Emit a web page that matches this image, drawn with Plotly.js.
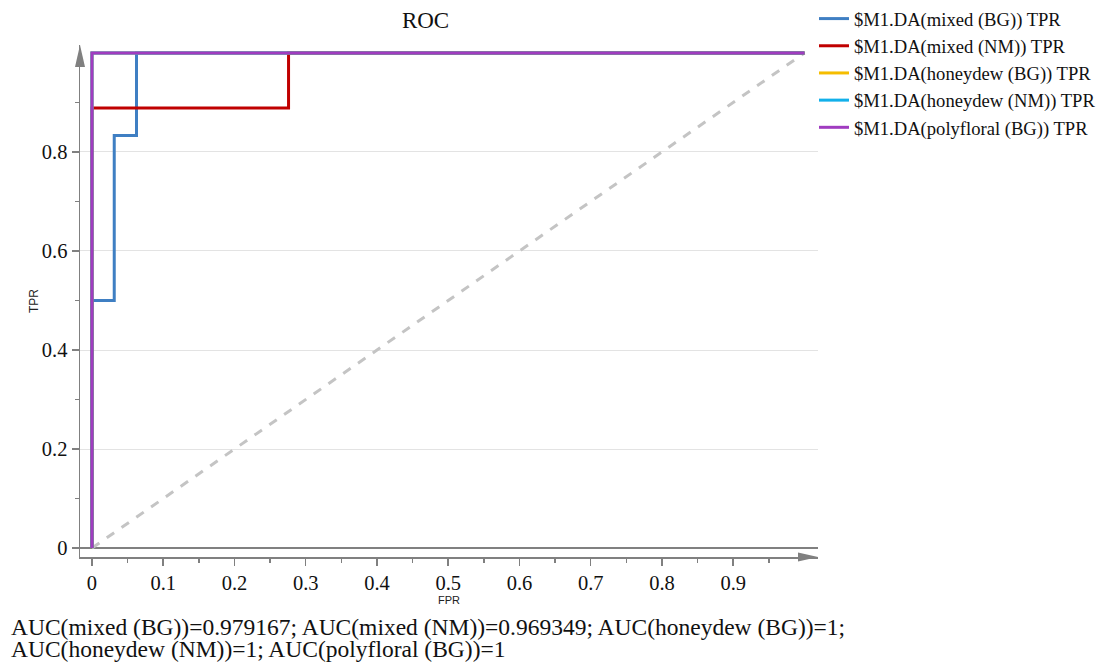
<!DOCTYPE html>
<html>
<head>
<meta charset="utf-8">
<script src="https://cdn.plot.ly/plotly-3.0.1.min.js"></script>
<style>html,body{margin:0;padding:0;background:#fff;}#chart{width:1107px;height:667px;}</style>
</head>
<body>
<div id="chart"></div>
<script>
// ---- data ----
const seriesNames = [
  "$M1.DA(mixed (BG)) TPR",
  "$M1.DA(mixed (NM)) TPR",
  "$M1.DA(honeydew (BG)) TPR",
  "$M1.DA(honeydew (NM)) TPR",
  "$M1.DA(polyfloral (BG)) TPR"
];
const fprMixedBG = [0, 0, 0.03125, 0.03125, 0.0625, 0.0625, 1];
const tprMixedBG = [0, 0.5, 0.5, 0.8333, 0.8333, 1, 1];
const fprMixedNM = [0, 0, 0.2759, 0.2759, 1];
const tprMixedNM = [0, 0.8889, 0.8889, 1, 1];
const fprHoneydewBG = [0, 0, 1];
const tprHoneydewBG = [0, 1, 1];
const fprHoneydewNM = [0, 0, 1];
const tprHoneydewNM = [0, 1, 1];
const fprPolyfloralBG = [0, 0, 1];
const tprPolyfloralBG = [0, 1, 1];
const diagX = [0, 1];
const diagY = [0, 1];
const aucLabels = ["mixed (BG)", "mixed (NM)", "honeydew (BG)", "honeydew (NM)", "polyfloral (BG)"];
const aucValues = ["0.979167", "0.969349", "1", "1", "1"];
const xTickVals = [0, 0.1, 0.2, 0.3, 0.4, 0.5, 0.6, 0.7, 0.8, 0.9];
const xTickText = ["0", "0.1", "0.2", "0.3", "0.4", "0.5", "0.6", "0.7", "0.8", "0.9"];
const yTickVals = [0, 0.2, 0.4, 0.6, 0.8];
const yTickText = ["0", "0.2", "0.4", "0.6", "0.8"];
const xMinorVals = [0.05, 0.15, 0.25, 0.35, 0.45, 0.55, 0.65, 0.75, 0.85, 0.95];
const yMinorVals = [0.1, 0.3, 0.5, 0.7, 0.9];

const colors = ["#3f7fc3", "#c00000", "#f5bd00", "#12b0ea", "#a03cc0"];
const xs = [fprMixedBG, fprMixedNM, fprHoneydewBG, fprHoneydewNM, fprPolyfloralBG];
const ys = [tprMixedBG, tprMixedNM, tprHoneydewBG, tprHoneydewNM, tprPolyfloralBG];

const serif = "Liberation Serif, Times New Roman, serif";
const sans = "Liberation Sans, Arial, sans-serif";

const traces = [{
  x: diagX, y: diagY, mode: "lines", showlegend: false, hoverinfo: "skip",
  line: {color: "#c4c4c4", width: 3, dash: "dash"}
}];
for (let i = 0; i < seriesNames.length; i++) {
  traces.push({
    x: xs[i], y: ys[i], mode: "lines", name: seriesNames[i],
    line: {color: colors[i], width: 3}
  });
}

const aucText = aucLabels.map((l, i) => "AUC(" + l + ")=" + aucValues[i]);
const aucLine1 = aucText.slice(0, 3).join("; ") + ";";
const aucLine2 = aucText.slice(3).join("; ");

const layout = {
  width: 1107, height: 667,
  margin: {l: 80, r: 289, t: 45, b: 110, autoexpand: false},
  paper_bgcolor: "#fff", plot_bgcolor: "#fff",
  title: {text: "ROC", font: {family: serif, size: 23, color: "#111"}, x: 0.3844, xanchor: "center", y: 0.97, yanchor: "middle"},
  xaxis: {
    range: [-0.0168, 1.019], showgrid: false, zeroline: false,
    showline: true, linecolor: "#808080", linewidth: 1.5,
    tickmode: "array", tickvals: xTickVals, ticktext: xTickText,
    ticks: "outside", ticklen: 7, tickcolor: "#808080", tickwidth: 1.5,
    minor: {tickmode: "array", tickvals: xMinorVals, ticks: "outside", ticklen: 4, tickcolor: "#808080", tickwidth: 1.5, showgrid: false},
    tickfont: {family: serif, size: 20.5, color: "#111"},
    title: {text: "FPR", font: {family: sans, size: 11, color: "#222"}, standoff: 3}
  },
  yaxis: {
    range: [-0.018, 1.016], showgrid: true, gridcolor: "#e3e3e3", gridwidth: 1,
    zeroline: true, zerolinecolor: "#808080", zerolinewidth: 1.5,
    showline: true, linecolor: "#808080", linewidth: 1.5,
    tickmode: "array", tickvals: yTickVals, ticktext: yTickText,
    ticks: "outside", ticklen: 7, tickcolor: "#808080", tickwidth: 1.5,
    minor: {tickmode: "array", tickvals: yMinorVals, ticks: "outside", ticklen: 4, tickcolor: "#808080", tickwidth: 1.5, showgrid: false},
    tickfont: {family: serif, size: 20.5, color: "#111"},
    title: {text: "TPR", font: {family: sans, size: 12, color: "#222"}, standoff: 0}
  },
  legend: {
    xref: "container", yref: "container",
    x: 0.7353, y: 1.0, xanchor: "left", yanchor: "top",
    font: {family: serif, size: 18.6, color: "#111"},
    bgcolor: "rgba(0,0,0,0)", tracegroupgap: 0
  },
  shapes: [
    {type: "path", xref: "paper", yref: "paper", xsizemode: "pixel", ysizemode: "pixel",
     xanchor: 1, yanchor: 0, path: "M 0 0 L -20 4.5 L -20 -4.5 Z",
     fillcolor: "#808080", line: {width: 0}},
    {type: "path", xref: "paper", yref: "paper", xsizemode: "pixel", ysizemode: "pixel",
     xanchor: 0, yanchor: 1, path: "M 0 0 L -5 -22 L 5 -22 Z",
     fillcolor: "#808080", line: {width: 0}}
  ],
  annotations: [
    {xref: "paper", yref: "paper", x: -0.0962, y: -0.1367, xanchor: "left", yanchor: "middle",
     align: "left", showarrow: false, text: aucLine1,
     font: {family: serif, size: 23.5, color: "#111"}},
    {xref: "paper", yref: "paper", x: -0.0962, y: -0.1797, xanchor: "left", yanchor: "middle",
     align: "left", showarrow: false, text: aucLine2,
     font: {family: serif, size: 23.5, color: "#111"}}
  ]
};

Plotly.newPlot("chart", traces, layout, {displayModeBar: false, staticPlot: true});
</script>
</body>
</html>
